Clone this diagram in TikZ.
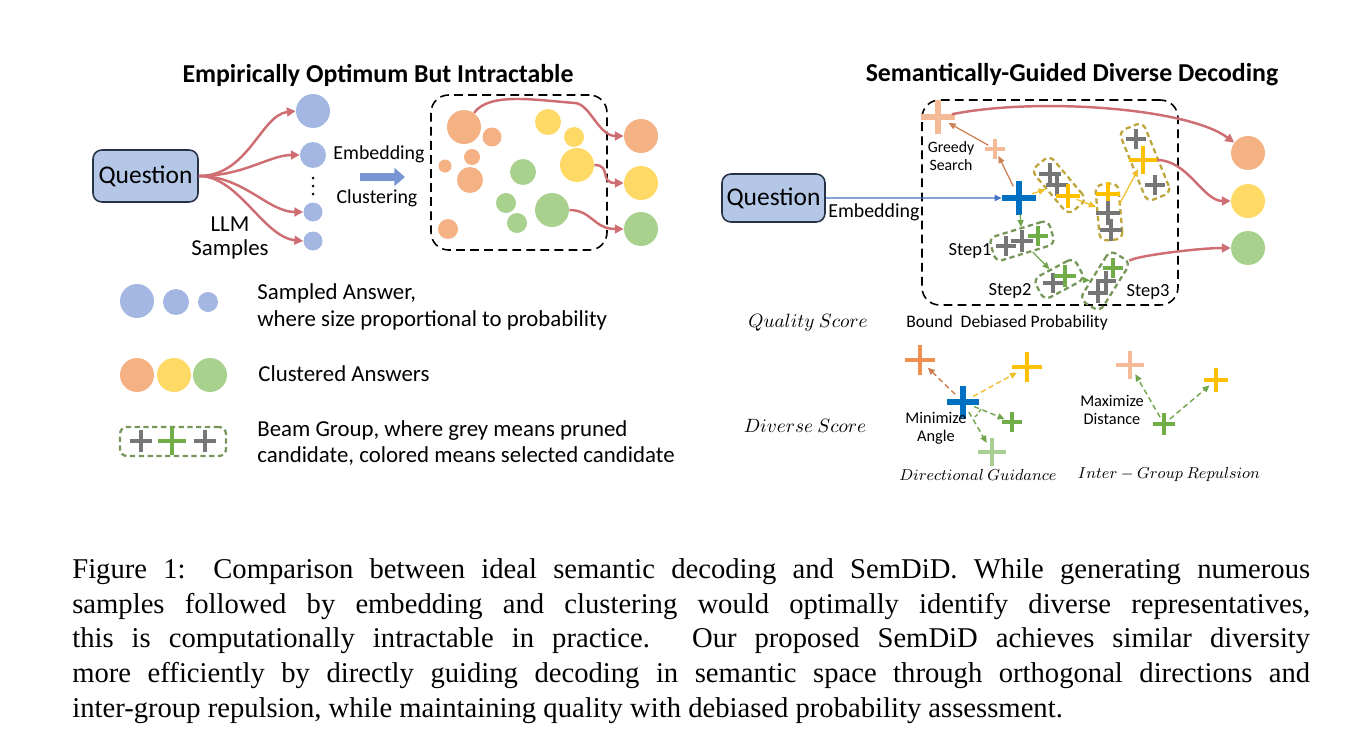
\documentclass[tikz,border=0pt]{standalone}
\usepackage{fontspec}
\setmainfont{Carlito}
\newfontfamily\captionserif{Liberation Serif}
\usepackage{tikz}
\usetikzlibrary{arrows.meta,shapes.misc,positioning}
\usepackage{xcolor}

\definecolor{qfill}{RGB}{180,199,231}
\definecolor{qdraw}{RGB}{40,50,70}
\definecolor{sblue}{RGB}{163,183,226}
\definecolor{corange}{RGB}{244,177,131}
\definecolor{cyellow}{RGB}{255,217,102}
\definecolor{cgreen}{RGB}{169,209,142}
\definecolor{redline}{RGB}{206,110,115}
\definecolor{fatblue}{RGB}{120,150,212}
\definecolor{xblue}{RGB}{0,112,192}
\definecolor{xgrey}{RGB}{118,118,118}
\definecolor{xyellow}{RGB}{255,192,0}
\definecolor{xgreen}{RGB}{112,173,71}
\definecolor{xorange}{RGB}{237,125,49}
\definecolor{xpeach}{RGB}{244,185,150}
\definecolor{ybox}{RGB}{190,165,60}
\definecolor{gbox}{RGB}{118,150,90}
\definecolor{lineblue}{RGB}{68,114,196}
\definecolor{lineorange}{RGB}{205,125,80}
\definecolor{lineyellow}{RGB}{240,190,40}
\definecolor{linegreen}{RGB}{112,165,75}

\begin{document}
\begin{tikzpicture}[
    x=0.02cm, y=-0.02cm,
    every node/.style={inner sep=0pt},
    title/.style={font=\fontsize{14.7}{17}\selectfont\bfseries},
    question/.style={draw=qdraw, fill=qfill, rounded corners=5pt, line width=0.9pt,
                     font=\fontsize{14.5}{17}\selectfont},
    dot/.style 2 args={circle, fill=#1, minimum size={#2*0.04cm}},
    crossmark/.style 2 args={cross out, draw=#1, rotate=45,
                             minimum size={#2*0.01414cm}, line width=2.3pt},
    beamgrp/.style n args={4}{draw=#1, dash pattern=on 3pt off 2pt, rounded corners=4pt,
                              line width=1.3pt, minimum width={#2*0.02cm},
                              minimum height={#3*0.02cm}, rotate=#4},
    regionbox/.style={draw, dash pattern=on 5pt off 3pt, rounded corners=10pt, line width=0.9pt},
    redarr/.style={draw=redline, line width=1.4pt, -{Triangle[length=5pt,width=5pt]}},
    fatarr/.style={draw=fatblue, line width=4pt, -{Triangle[length=6pt,width=10pt]}},
    thinarr/.style={line width=0.7pt, -{Triangle[length=4pt,width=3.5pt]}},
    dasharr/.style={line width=0.8pt, dash pattern=on 3pt off 2pt, -{Triangle[length=4pt,width=3.5pt]}},
    embedfont/.style={font=\fontsize{11.3}{13}\selectfont},
    legendfont/.style={font=\fontsize{13}{15.3}\selectfont, align=left},
    greedyfont/.style={font=\fontsize{9}{10.2}\selectfont, align=center},
    steplbl/.style={font=\fontsize{10.5}{12}\selectfont},
    smalllbl/.style={font=\fontsize{9.3}{10.3}\selectfont, align=center},
    mathbig/.style={font=\fontsize{11.2}{13}\selectfont},
    mathsmall/.style={font=\fontsize{9}{11}\selectfont},
]
\useasboundingbox (0,0) rectangle (1358,754);

%% Left panel: sampling, then embedding and clustering
\node[title] (lefttitle) at (378,75) {Empirically Optimum But Intractable};
\node[question, minimum width=2.1cm, minimum height=1.04cm] (lq) at (145.5,176) {Question};

\node[dot={sblue}{17}]  (s1) at (313,111) {};
\node[dot={sblue}{13}]  (s2) at (313,155) {};
\foreach \y [count=\i] in {178,186,194}
  \node[dot={black}{1.5}] (sdot\i) at (313,\y) {};
\node[dot={sblue}{9.5}] (s3) at (313,212) {};
\node[dot={sblue}{9.5}] (s4) at (313,241) {};

\draw[redarr] (lq.east) .. controls +(50,0) and +(-35,4) .. (s1.west);
\draw[redarr] (lq.east) .. controls +(45,0) and +(-30,0) .. (s2.west);
\draw[redarr] (lq.east) .. controls +(45,0) and +(-35,0) .. (s3.west);
\draw[redarr] (lq.east) .. controls +(40,0) and +(-40,-4) .. (s4.west);

\node[font=\fontsize{13}{14.2}\selectfont, align=center] (llm) at (230,238) {LLM\\Samples};

\node[embedfont] (emb) at (379,154) {Embedding};
\node[embedfont] (clu) at (377,198) {Clustering};
\coordinate (fatA) at (360,177);
\coordinate (fatB) at (405,177);
\draw[fatarr] (fatA) -- (fatB);

\node[regionbox, minimum width=3.52cm, minimum height=3.1cm] (lbox) at (519,172.5) {};

% clustered answers inside the box
\foreach \n/\x/\y/\r/\c in {cA/464/127/17/corange, cB/492/137/9.5/corange,
    cC/472/157/8/corange, cD/445/166/6.5/corange, cE/470/180/13/corange,
    cF/448/229/10/corange, cH/548/122/13/cyellow, cI/574/137/10/cyellow,
    cY/577/165/17/cyellow, cJ/523/172/13/cgreen, cK/506/203/10/cgreen,
    cL/517/223/10/cgreen, cG/552/210/17/cgreen}
  \node[dot={\c}{\r}] (\n) at (\x,\y) {};

\node[dot={corange}{17}] (lo1) at (641,136) {};
\node[dot={cyellow}{17}] (lo2) at (641,183) {};
\node[dot={cgreen}{17}]  (lo3) at (641,229) {};

\draw[redarr] (cA) .. controls +(25,-35) and +(-40,-3) .. (575,103)
    .. controls +(15,1) and +(-25,0) .. (lo1.west);
\draw[redarr] (cY) .. controls +(35,0) and +(-25,0) .. (lo2.west);
\draw[redarr] (cG) .. controls +(40,0) and +(-30,0) .. (lo3.west);

%% Legend
\node[dot={sblue}{17}] (la1) at (137,301) {};
\node[dot={sblue}{13}] (la2) at (176,302) {};
\node[dot={sblue}{10}] (la3) at (208,302) {};
\node[legendfont, anchor=west] (lt1) at (257,306.5)
    {Sampled Answer,\\where size proportional to probability};

\node[dot={corange}{17}] (lc1) at (137,375) {};
\node[dot={cyellow}{17}] (lc2) at (174,375) {};
\node[dot={cgreen}{17}]  (lc3) at (210,375) {};
\node[legendfont, anchor=west] (lt2) at (258,374) {Clustered Answers};

\node[beamgrp={gbox}{106}{29}{0}] (lbg) at (173,441.5) {};
\node[crossmark={xgrey}{17}]  (lx1) at (141,441) {};
\node[crossmark={xgreen}{22}] (lx2) at (172,441) {};
\node[crossmark={xgrey}{17}]  (lx3) at (205,441) {};
\node[legendfont, anchor=west] (lt3) at (257,443)
    {Beam Group, where grey means pruned\\candidate, colored means selected candidate};

%% Right panel: guided decoding in semantic space
\node[title] (righttitle) at (1072,75) {Semantically-Guided Diverse Decoding};
\node[question, minimum width=2.06cm, minimum height=0.96cm] (rq) at (773.5,198) {Question};
\node[regionbox, minimum width=5.12cm, minimum height=4.1cm] (rbox) at (1050,202.5) {};
\node[embedfont, anchor=west] (remb) at (828,212) {Embedding};

\node[greedyfont] (greedy) at (951,156) {Greedy\\Search};
\node[steplbl] (step1) at (970,251) {Step1};
\node[steplbl] (step2) at (1010,291) {Step2};
\node[steplbl] (step3) at (1148,292) {Step3};

\node[crossmark={xpeach}{26}, line width=2.9pt] (pc) at (938,117) {};
\node[crossmark={xpeach}{15}] (ps) at (995,149) {};
\node[crossmark={xblue}{27}, line width=3.1pt] (bq) at (1019,198) {};

% beam groups
\node[beamgrp={ybox}{58}{24}{-50}] (yg1) at (1059,185) {};
\node[beamgrp={ybox}{56}{23}{-85}] (yg2) at (1109,212) {};
\node[beamgrp={ybox}{76}{26}{-68}] (yg3) at (1145,162) {};
\node[beamgrp={gbox}{62}{25}{17}]  (gg1) at (1022,241) {};
\node[beamgrp={gbox}{46}{24}{28}]  (gg2) at (1059,279) {};
\node[beamgrp={gbox}{58}{24}{58}]  (gg3) at (1105,281) {};

\foreach \n/\x/\y/\c/\s in {ya/1050/174/xgrey/16, yb/1057/185/xgrey/16,
    yc/1068/196/xyellow/18, yd/1108/194/xyellow/18, ye/1108/213/xgrey/18,
    yf/1111/230/xgrey/16, yg/1136/139/xgrey/15, yh/1143/160/xyellow/22,
    yi/1155/185/xgrey/15, ga/1006/246/xgrey/15, gb/1022/241/xgrey/17,
    gc/1038/236/xgreen/15, gd/1053/283/xgrey/14, ge/1065/276/xgreen/17,
    gf/1098/293/xgrey/15, gg/1106/281/xgrey/15, gh/1113/268/xgreen/15}
  \node[crossmark={\c}{\s}] (\n) at (\x,\y) {};

\node[dot={corange}{17}] (ro1) at (1248,153) {};
\node[dot={cyellow}{17}] (ro2) at (1248,201) {};
\node[dot={cgreen}{17}]  (ro3) at (1248,248) {};

\draw[thinarr, draw=lineblue] (rq.east) -- (bq);
\draw[thinarr, draw=lineorange] (bq) -- (ps);
\draw[thinarr, draw=lineorange] (ps) -- (pc);
\draw[thinarr, draw=lineyellow] (bq) -- (yg1);
\draw[thinarr, draw=lineyellow] (yc) -- (yg2);
\coordinate (y2out) at (1119,205);
\draw[thinarr, draw=lineyellow] (y2out) -- (yh);
\draw[thinarr, draw=linegreen] (bq) -- (gg1);
\draw[thinarr, draw=linegreen] (gg1) -- (gg2);
\draw[thinarr, draw=linegreen] (gg2) -- (gg3);

\draw[redarr] (pc) .. controls +(100,-20) and +(-60,-45) .. (ro1);
\draw[redarr] (yh) .. controls +(45,0) and +(-45,0) .. (ro2);
\draw[redarr] (gg3) .. controls +(30,-25) and +(-50,0) .. (ro3);

%% Scores
\node[mathbig] (qscore) at (808,323) {$Quality\ Score$};
\node[steplbl, font=\fontsize{10}{12}\selectfont] (bdp) at (1007,323) {Bound\ \ Debiased Probability};
\node[mathbig] (dscore) at (805,426) {$Diverse\ Score$};

% directional guidance
\node[crossmark={xorange!85}{24}, line width=2.8pt] (od) at (920,360) {};
\node[crossmark={xyellow}{24}, line width=2.8pt] (yd) at (1027,367) {};
\node[crossmark={xgreen}{15}] (gs) at (1012,422) {};
\node[crossmark={xgreen!60}{22}, line width=2.8pt] (gl) at (992,452) {};
\node[crossmark={xblue}{24}, line width=3pt] (bd) at (963,402) {};
\draw[dasharr, draw=lineorange] (bd) -- (od);
\draw[dasharr, draw=lineyellow] (bd) -- (yd);
\draw[dasharr, draw=linegreen] (bd) -- (gs);
\draw[dasharr, draw=linegreen] (bd) -- (gl);
\draw[linegreen, line width=0.8pt, dash pattern=on 2pt off 1.5pt]
    ([shift={(-22:0.38cm)}]bd.center) arc[start angle=-22, end angle=-58, radius=0.38cm];
\node[smalllbl] (minang) at (936,428) {Minimize\\Angle};
\node[mathsmall] (dirg) at (978,475) {$Directional\ Guidance$};

% inter-group repulsion
\node[crossmark={xpeach}{22}, line width=2.8pt] (pr) at (1130,365) {};
\node[crossmark={xyellow}{18}] (yr) at (1216,380) {};
\node[crossmark={xgreen}{16}] (gr) at (1164,424) {};
\draw[dasharr, draw=linegreen] (gr) -- (pr);
\draw[dasharr, draw=linegreen] (gr) -- (yr);
\node[smalllbl] (maxd) at (1112,410) {Maximize\\Distance};
\node[mathsmall] (igr) at (1169,475) {$Inter-Group\ Repulsion$};

%% Caption
\node[anchor=north west, text width=24.76cm, align=justify,
      font=\captionserif\fontsize{16.3}{19.85}\selectfont] (caption) at (72,558)
  {Figure 1: Comparison between ideal semantic decoding and SemDiD. While generating numerous\linebreak
   samples followed by embedding and clustering would optimally identify diverse representatives,\linebreak
   this is computationally intractable in practice. Our proposed SemDiD achieves similar diversity\linebreak
   more efficiently by directly guiding decoding in semantic space through orthogonal directions and\linebreak
   inter-group repulsion, while maintaining quality with debiased probability assessment.};
\end{tikzpicture}
\end{document}
